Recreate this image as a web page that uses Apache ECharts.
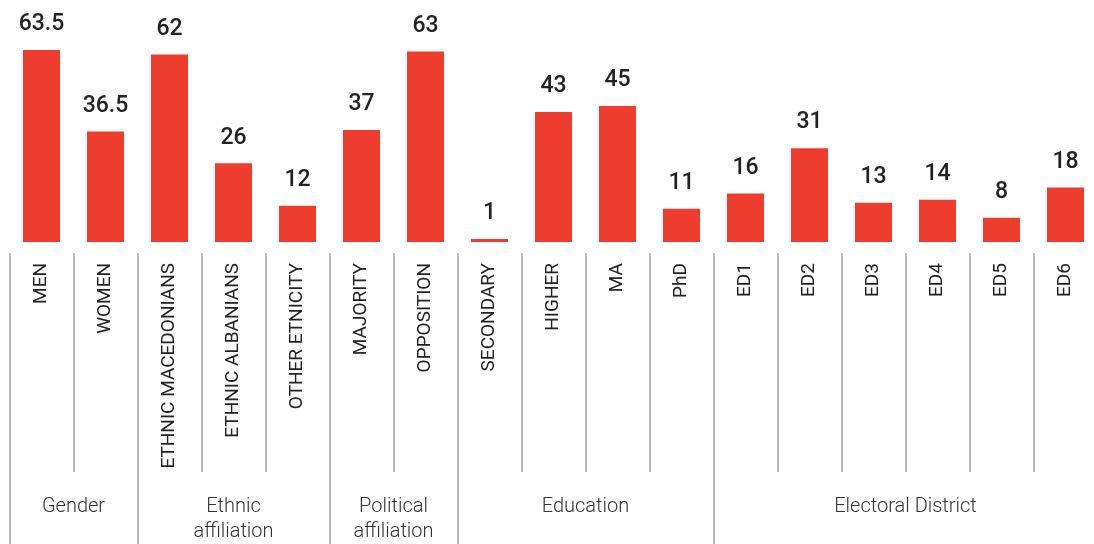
<!DOCTYPE html>
<html>
<head>
<meta charset="utf-8">
<script src="https://cdn.jsdelivr.net/npm/echarts@6/dist/echarts.min.js"></script>
<style>
  html, body { margin: 0; padding: 0; background: #ffffff; }
  #chart { width: 1094px; height: 544px; }
</style>
</head>
<body>
<div id="chart"></div>
<script>
const categories = ['MEN', 'WOMEN', 'ETHNIC MACEDONIANS', 'ETHNIC ALBANIANS', 'OTHER ETNICITY',
  'MAJORITY', 'OPPOSITION', 'SECONDARY', 'HIGHER', 'MA', 'PhD',
  'ED1', 'ED2', 'ED3', 'ED4', 'ED5', 'ED6'];
const values = [63.5, 36.5, 62, 26, 12, 37, 63, 1, 43, 45, 11, 16, 31, 13, 14, 8, 18];
const groupNames = ['Gender', 'Ethnic\naffiliation', 'Political\naffiliation', 'Education', 'Electoral District'];
const groupSizes = [2, 3, 2, 4, 6];

const groupStarts = [];
{ let s = 0; for (const n of groupSizes) { groupStarts.push(s); s += n; } }

const chart = echarts.init(document.getElementById('chart'), null, { renderer: 'canvas' });
const lineColor = '#a3a3a6';

const option = {
  animation: false,
  backgroundColor: '#ffffff',
  grid: { left: 9.5, width: 1088, top: 0, height: 242, containLabel: false, outerBoundsMode: 'none' },
  xAxis: [
    { type: 'category', data: categories, gridIndex: 0,
      axisLine: { show: false }, axisTick: { show: false }, axisLabel: { show: false } },
    { type: 'category', data: categories, gridIndex: 0, position: 'bottom', offset: 11,
      axisLine: { show: false },
      axisTick: { show: true, length: 219, interval: 0, lineStyle: { color: lineColor, width: 1.5 } },
      axisLabel: { show: true, interval: 0, rotate: 90, margin: 10,
        fontFamily: 'Roboto', fontSize: 19, color: '#222222' } },
    { type: 'category', data: categories, gridIndex: 0, position: 'bottom', offset: 11,
      axisLine: { show: false },
      axisTick: { show: true, length: 292,
        interval: function (idx) { return groupStarts.indexOf(idx) >= 0; },
        lineStyle: { color: lineColor, width: 1.5 } },
      axisLabel: { show: false } }
  ],
  yAxis: { type: 'value', min: 0, max: 80, show: false },
  series: [{
    type: 'bar',
    data: values,
    xAxisIndex: 0,
    barWidth: 37,
    itemStyle: { color: '#ee3d2f' },
    label: { show: true, position: 'top', distance: 14,
      fontFamily: 'Roboto', fontSize: 23, fontWeight: 500, color: '#222222' }
  }]
};
chart.setOption(option);

const graphics = [];
groupNames.forEach(function (name, g) {
  const first = groupStarts[g];
  const last = first + groupSizes[g] - 1;
  const x0 = chart.convertToPixel({ xAxisIndex: 0 }, first);
  const x1 = chart.convertToPixel({ xAxisIndex: 0 }, last);
  graphics.push({
    type: 'text',
    x: (x0 + x1) / 2,
    y: 494.5,
    style: {
      text: name,
      fontFamily: 'Roboto', fontSize: 20, fontWeight: 300,
      fill: '#333333', align: 'center', verticalAlign: 'top', lineHeight: 25
    }
  });
});
chart.setOption({ graphic: graphics });
</script>
</body>
</html>
